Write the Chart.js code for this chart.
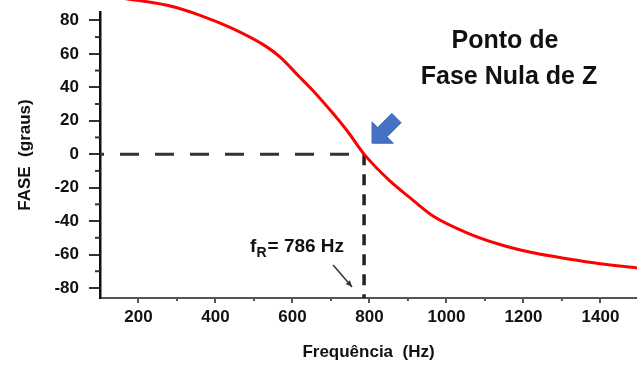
<!DOCTYPE html>
<html>
<head>
<meta charset="utf-8">
<script src="https://cdn.jsdelivr.net/npm/chart.js@4/dist/chart.umd.min.js"></script>
<style>
  html, body { margin: 0; padding: 0; background: #fff; }
  canvas { display: block; }
</style>
</head>
<body>
<canvas id="phase-chart" width="637" height="367"></canvas>
<script>
// values
const freq  = [165, 274, 360, 445, 534, 568, 619, 653, 742, 786, 853, 905, 965, 1053, 1139, 1225, 1313, 1399, 1495];
const phase = [93, 89, 83, 75, 64, 58, 46, 38, 14, 0, -16, -26, -37, -47, -54, -59, -62.5, -65.5, -68];
const fR = 786;
const xTicks = [200, 400, 600, 800, 1000, 1200, 1400];
const xMinor = [300, 500, 700, 900, 1100, 1300];
const yTicks = [-80, -60, -40, -20, 0, 20, 40, 60, 80];
const yMinor = [-70, -50, -30, -10, 10, 30, 50, 70];
const xMin = 100, xMax = 1495, yMin = -86, yMax = 85;

const FONT = "'Liberation Sans', Arial, sans-serif";

const extras = {
    id: 'extras',
    afterDraw(chart) {
        const ctx = chart.ctx;
        const x = chart.scales.x, y = chart.scales.y;
        const area = chart.chartArea;
        ctx.save();

        // minor ticks
        ctx.strokeStyle = '#333';
        ctx.lineWidth = 2;
        yMinor.forEach(v => {
            const py = y.getPixelForValue(v);
            ctx.beginPath();
            ctx.moveTo(area.left - 5, py);
            ctx.lineTo(area.left, py);
            ctx.stroke();
        });
        ctx.strokeStyle = '#555';
        xMinor.forEach(v => {
            const px = x.getPixelForValue(v);
            ctx.beginPath();
            ctx.moveTo(px, area.bottom);
            ctx.lineTo(px, area.bottom + 3);
            ctx.stroke();
        });

        const px0 = x.getPixelForValue(fR);
        const py0 = y.getPixelForValue(0);

        // blue arrow pointing at the zero-phase point
        const tipX = px0 + 8, tipY = py0 - 11;
        const s = Math.SQRT1_2;
        const pt = (u, v) => [tipX + (u + v) * s, tipY + (-u + v) * s];
        const shape = [[0, 0], [15, -15], [15, -7], [35, -7], [35, 6], [15, 6], [15, 15]];
        ctx.beginPath();
        shape.forEach((p, i) => {
            const q = pt(p[0], p[1]);
            if (i === 0) ctx.moveTo(q[0], q[1]); else ctx.lineTo(q[0], q[1]);
        });
        ctx.closePath();
        ctx.fillStyle = '#4472C4';
        ctx.fill();
        ctx.strokeStyle = '#3A62AD';
        ctx.lineWidth = 1;
        ctx.stroke();

        // fR pointer
        const ax = px0 - 31, ay = area.bottom - 33;
        const bx = px0 - 12, by = area.bottom - 11;
        ctx.strokeStyle = '#333';
        ctx.lineWidth = 1.5;
        ctx.beginPath();
        ctx.moveTo(ax, ay);
        ctx.lineTo(bx, by);
        ctx.stroke();
        const ang = Math.atan2(by - ay, bx - ax);
        ctx.beginPath();
        ctx.moveTo(bx, by);
        ctx.lineTo(bx - 7 * Math.cos(ang - 0.4), by - 7 * Math.sin(ang - 0.4));
        ctx.lineTo(bx - 7 * Math.cos(ang + 0.4), by - 7 * Math.sin(ang + 0.4));
        ctx.closePath();
        ctx.fillStyle = '#333';
        ctx.fill();

        // fR label
        ctx.fillStyle = '#111';
        ctx.textBaseline = 'alphabetic';
        ctx.textAlign = 'left';
        ctx.font = 'bold 19px ' + FONT;
        let tx = px0 - 114;
        const tb = area.bottom - 46;
        ctx.fillText('f', tx, tb);
        tx += ctx.measureText('f').width;
        ctx.font = 'bold 14px ' + FONT;
        ctx.fillText('R', tx, tb + 5);
        tx += ctx.measureText('R').width + 1;
        ctx.font = 'bold 19px ' + FONT;
        ctx.fillText('= 786 Hz', tx, tb);

        // annotation text
        ctx.textAlign = 'center';
        ctx.textBaseline = 'middle';
        ctx.font = 'bold 25px ' + FONT;
        ctx.fillText('Ponto de', 505, 41);
        ctx.fillText('Fase Nula de Z', 509, 77);

        ctx.restore();
    }
};

const ctx = document.getElementById('phase-chart').getContext('2d');

new Chart(ctx, {
    type: 'line',
    data: {
        datasets: [
            {
                data: freq.map((f, i) => ({ x: f, y: phase[i] })),
                borderColor: '#FF0000',
                borderWidth: 3,
                pointRadius: 0,
                cubicInterpolationMode: 'monotone',
                clip: false
            },
            {
                data: [{ x: xMin, y: 0 }, { x: fR, y: 0 }],
                borderColor: '#333',
                borderWidth: 3,
                borderDash: [19, 16],
                borderDashOffset: 15,
                pointRadius: 0
            },
            {
                data: [{ x: fR, y: 0 }, { x: fR, y: yMin }],
                borderColor: '#222',
                borderWidth: 3.5,
                borderDash: [11, 9],
                pointRadius: 0
            }
        ]
    },
    options: {
        responsive: false,
        animation: false,
        events: [],
        layout: { padding: { top: 12, right: 0, bottom: 0, left: 0 } },
        plugins: {
            legend: { display: false },
            tooltip: { enabled: false }
        },
        scales: {
            x: {
                type: 'linear',
                min: xMin,
                max: xMax,
                afterBuildTicks: s => { s.ticks = xTicks.map(v => ({ value: v })); },
                afterFit: s => { s.height = 69; s.paddingLeft = 0; s.paddingRight = 0; },
                grid: { drawOnChartArea: false, drawTicks: true, tickLength: 5, tickColor: '#555', lineWidth: 2 },
                border: { display: true, color: '#555', width: 2 },
                ticks: {
                    color: '#111', padding: 4, maxRotation: 0,
                    font: { family: FONT, size: 17, weight: 'bold' },
                    callback: v => String(v)
                },
                title: {
                    display: true,
                    text: 'Frequência  (Hz)',
                    color: '#111',
                    padding: { top: 0, bottom: 4 },
                    font: { family: FONT, size: 17, weight: 'bold' }
                }
            },
            y: {
                min: yMin,
                max: yMax,
                afterBuildTicks: s => { s.ticks = yTicks.map(v => ({ value: v })); },
                afterFit: s => { s.width = 100; s.paddingTop = 0; s.paddingBottom = 0; },
                grid: { drawOnChartArea: false, drawTicks: true, tickLength: 11, tickColor: '#333', lineWidth: 2 },
                border: { display: true, color: '#111', width: 2.5 },
                ticks: {
                    color: '#111', padding: 10,
                    font: { family: FONT, size: 17, weight: 'bold' },
                    callback: v => String(v)
                },
                title: {
                    display: true,
                    text: 'FASE  (graus)',
                    color: '#111',
                    padding: { top: 15, bottom: 0 },
                    font: { family: FONT, size: 17, weight: 'bold' }
                }
            }
        }
    },
    plugins: [extras]
});
</script>
</body>
</html>
